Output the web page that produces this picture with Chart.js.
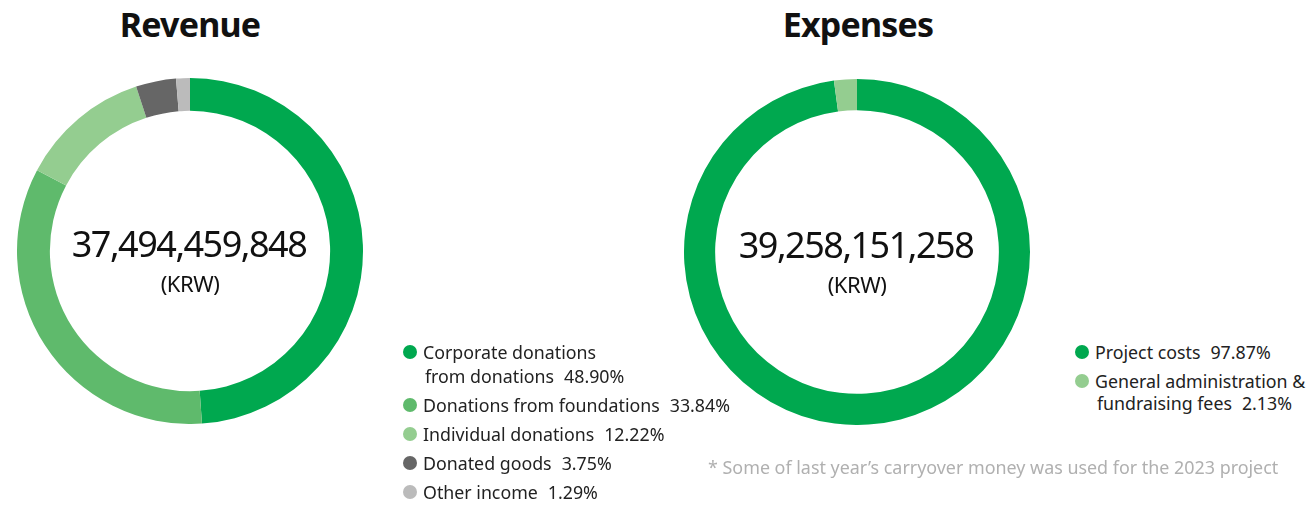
<!DOCTYPE html>
<html>
<head>
<meta charset="utf-8">
<script src="https://cdn.jsdelivr.net/npm/chart.js@4"></script>
<style>
  html, body { margin: 0; padding: 0; background: #fff; }
  body { width: 1306px; height: 506px; position: relative; overflow: hidden; font-family: "Noto Sans", sans-serif; color: #222; }
  .title { position: absolute; top: 0; width: 300px; text-align: center; font-weight: 700; font-size: 34px; letter-spacing: -0.8px; line-height: 48px; color: #111; }
  .donut { position: absolute; width: 346px; height: 346px; }
  .legend { position: absolute; font-size: 17.8px; }
  .legend .item { position: relative; padding-left: 20px; }
  .legend .dot { position: absolute; left: 0; width: 14px; height: 14px; border-radius: 50%; }
  .legend .pct { margin-left: 10px; }
  #revLegend { left: 403px; top: 340px; line-height: 24px; }
  #revLegend .item { margin-bottom: 5px; }
  #revLegend .dot { top: 5px; }
  #expLegend { left: 1075px; top: 341px; line-height: 22px; }
  #expLegend .item { margin-bottom: 7px; }
  #expLegend .dot { top: 4px; }
  .note { position: absolute; left: 708px; top: 455px; font-size: 17.9px; color: #b0b0b0; line-height: 24px; }
</style>
</head>
<body>
<div class="title" style="left:40px">Revenue</div>
<div class="title" style="left:708px">Expenses</div>
<div class="donut" style="left:17px; top:78px"><canvas id="revenue"></canvas></div>
<div class="donut" style="left:684px; top:79px"><canvas id="expenses"></canvas></div>
<div class="legend" id="revLegend"></div>
<div class="legend" id="expLegend"></div>
<div class="note">* Some of last year’s carryover money was used for the 2023 project</div>

<script>
const revenueLabels = ['Corporate donations\nfrom donations', 'Donations from foundations', 'Individual donations', 'Donated goods', 'Other income'];
const revenueShares = [48.90, 33.84, 12.22, 3.75, 1.29];
const revenueTotal = '37,494,459,848';

const expenseLabels = ['Project costs', 'General administration &\nfundraising fees'];
const expenseShares = [97.87, 2.13];
const expenseTotal = '39,258,151,258';

const unitLabel = '(KRW)';

const revenueColors = ['#00a84f', '#5fba6c', '#94cd90', '#666666', '#bbbbbb'];
const expenseColors = ['#00a84f', '#94cd90'];

// centre total drawn inside the ring
const centerText = {
    id: 'centerText',
    afterDraw(chart, args, opts) {
        const { ctx, chartArea } = chart;
        const cx = (chartArea.left + chartArea.right) / 2;
        const cy = (chartArea.top + chartArea.bottom) / 2;
        ctx.save();
        ctx.fillStyle = '#111';
        ctx.textAlign = 'center';
        ctx.textBaseline = 'alphabetic';
        ctx.letterSpacing = '-1.5px';
        ctx.font = '36px "Noto Sans"';
        ctx.fillText(opts.total, cx - 1, cy + 6);
        ctx.letterSpacing = '-0.5px';
        ctx.font = '22px "Noto Sans"';
        ctx.fillText(unitLabel, cx, cy + 41);
        ctx.restore();
    }
};

function makeDonut(id, labels, values, colors, total, cutout) {
    new Chart(document.getElementById(id), {
        type: 'doughnut',
        data: {
            labels: labels.map(l => l.replace('\n', ' ')),
            datasets: [{
                data: values,
                backgroundColor: colors,
                borderWidth: 0
            }]
        },
        options: {
            responsive: true,
            maintainAspectRatio: false,
            animation: false,
            cutout: cutout,
            layout: { padding: 0 },
            plugins: {
                legend: { display: false },
                centerText: { total: total }
            }
        },
        plugins: [centerText]
    });
}

function makeLegend(id, labels, values, colors) {
    const box = document.getElementById(id);
    labels.forEach((label, i) => {
        const item = document.createElement('div');
        item.className = 'item';
        const dot = document.createElement('span');
        dot.className = 'dot';
        dot.style.background = colors[i];
        item.appendChild(dot);
        const lines = label.split('\n');
        lines.forEach((line, j) => {
            const row = document.createElement('div');
            row.textContent = line;
            if (j > 0) row.style.paddingLeft = '2px';
            if (j === lines.length - 1) {
                const pct = document.createElement('span');
                pct.className = 'pct';
                pct.textContent = values[i].toFixed(2) + '%';
                row.appendChild(pct);
            }
            item.appendChild(row);
        });
        box.appendChild(item);
    });
}

makeDonut('revenue', revenueLabels, revenueShares, revenueColors, revenueTotal, '81%');
makeDonut('expenses', expenseLabels, expenseShares, expenseColors, expenseTotal, '82%');
makeLegend('revLegend', revenueLabels, revenueShares, revenueColors);
makeLegend('expLegend', expenseLabels, expenseShares, expenseColors);
</script>
</body>
</html>
